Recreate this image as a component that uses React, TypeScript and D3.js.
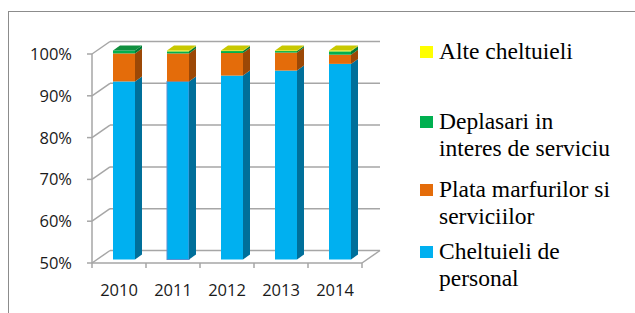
import React from "react";
import * as d3 from "d3";

const years = ["2010", "2011", "2012", "2013", "2014"];
const personal = [92.6, 92.6, 94.0, 95.2, 96.8];
const plata = [6.7, 6.7, 5.4, 4.3, 2.2];
const deplasari = [0.7, 0.5, 0.5, 0.4, 0.8];
const alte = [0.0, 0.2, 0.1, 0.1, 0.2];
const yTicks = [50, 60, 70, 80, 90, 100];

// bottom to top stacking order
const series = [
	{ name: "Cheltuieli de personal", values: personal, front: "#00B0F0", side: "#006F9A", top: "#33C4F5" },
	{ name: "Plata marfurilor si serviciilor", values: plata, front: "#E46C0A", side: "#9C4806", top: "#F08A3A" },
	{ name: "Deplasari in interes de serviciu", values: deplasari, front: "#00B050", side: "#007A36", top: "#0F8F3E" },
	{ name: "Alte cheltuieli", values: alte, front: "#FFFF00", side: "#B5B500", top: "#C8C800" },
];

// legend, top to bottom, with its own line breaks
const legend = [
	{ lines: ["Alte cheltuieli"], color: "#FFFF00", y: 46 },
	{ lines: ["Deplasari in", "interes de serviciu"], color: "#00B050", y: 116 },
	{ lines: ["Plata marfurilor si", "serviciilor"], color: "#E46C0A", y: 184 },
	{ lines: ["Cheltuieli de", "personal"], color: "#00B0F0", y: 246 },
];

const W = 635;
const H = 313;
const DX = 18; // depth of the 3d box
const DY = -12.5;
const BX = 5; // bar front face offset inside the box
const BY = -3.5;
const BDX = 7; // bar depth
const BDY = -5;
const BAR_W = 22;

export default function App() {
	const x = d3.scaleBand().domain(years).range([92, 362]);
	const y = d3.scaleLinear().domain([50, 100]).range([263, 54]);
	const grid = "#A6A6A6";
	const x0 = 92, x1 = 362;

	const stacked = d3.stack<number>()
		.keys(series.map((s, i) => String(i)))
		.value((j, key) => series[+key].values[j])(d3.range(years.length));

	const bars: JSX.Element[] = [];
	years.forEach((yr, j) => {
		const left = (x(yr) as number) + x.bandwidth() / 2 - BAR_W / 2 + BX;
		const right = left + BAR_W;
		let topIdx = 0;
		stacked.forEach((layer, i) => {
			if (series[i].values[j] > 0) topIdx = i;
		});
		stacked.forEach((layer, i) => {
			const [lo, hi] = layer[j];
			if (hi - lo <= 0) return;
			const yBot = (i === 0 ? y(50) : y(lo)) + BY;
			const yTop = y(hi) + BY;
			const s = series[i];
			bars.push(
				<g key={`${yr}-${i}`}>
					<rect x={left} y={yTop} width={BAR_W} height={Math.max(yBot - yTop, 0.6)} fill={s.front}
						stroke={j === 1 && i === 0 ? "#5A8FD0" : "none"} strokeWidth={1} />
					<path d={`M${right},${yTop}L${right + BDX},${yTop + BDY}L${right + BDX},${yBot + BDY}L${right},${yBot}Z`} fill={s.side} />
					{i === topIdx && (
						<path d={`M${left},${yTop}L${left + BDX},${yTop + BDY}L${right + BDX},${yTop + BDY}L${right},${yTop}Z`} fill={s.top} />
					)}
				</g>
			);
		});
	});

	return (
		<svg width={W} height={H} style={{ position: "absolute", left: 0, top: 0, background: "#fff" }}>
			<rect x={8.5} y={11.5} width={700} height={400} fill="none" stroke="#8C8C8C" strokeWidth={1} />
			{/* back wall + side wall gridlines */}
			{yTicks.map(t => (
				<g key={t}>
					<line x1={x0 + DX} x2={x1 + DX} y1={y(t) + DY} y2={y(t) + DY} stroke={grid} strokeWidth={1.5} />
					<line x1={x0} x2={x0 + DX} y1={y(t)} y2={y(t) + DY} stroke={grid} strokeWidth={1.5} />
					<line x1={x0 - 5} x2={x0} y1={y(t)} y2={y(t)} stroke={grid} strokeWidth={1.5} />
					<text x={72} y={y(t)} dy="0.36em" textAnchor="end" fontFamily="Open Sans, sans-serif" fontSize={16.5} fill="#1A1A1A">
						{d3.format(".0%")(t / 100)}
					</text>
				</g>
			))}
			{/* floor */}
			<line x1={x0} x2={x0} y1={y(100)} y2={y(50)} stroke={grid} strokeWidth={1.5} />
			<line x1={x0} x2={x1} y1={y(50)} y2={y(50)} stroke={grid} strokeWidth={1.5} />
			<line x1={x1} x2={x1 + DX} y1={y(50)} y2={y(50) + DY} stroke={grid} strokeWidth={1.5} />
			{years.map(yr => (
				<g key={yr}>
					<line x1={x(yr) as number} x2={x(yr) as number} y1={y(50)} y2={y(50) + 5} stroke={grid} strokeWidth={1.5} />
					<text x={(x(yr) as number) + x.bandwidth() / 2} y={296} textAnchor="middle" fontFamily="Open Sans, sans-serif" fontSize={16.5} fill="#1A1A1A">
						{yr}
					</text>
				</g>
			))}
			<line x1={x1} x2={x1} y1={y(50)} y2={y(50) + 5} stroke={grid} strokeWidth={1.5} />
			{bars}
			{/* legend */}
			{legend.map(l => (
				<g key={l.lines[0]}>
					<rect x={420} y={l.y} width={13} height={12} fill={l.color} />
					{l.lines.map((t, k) => (
						<text key={k} x={439} y={l.y + 13 + k * 26.5} fontFamily="Liberation Serif, serif" fontSize={23.5} fill="#000">
							{t}
						</text>
					))}
				</g>
			))}
		</svg>
	);
}
